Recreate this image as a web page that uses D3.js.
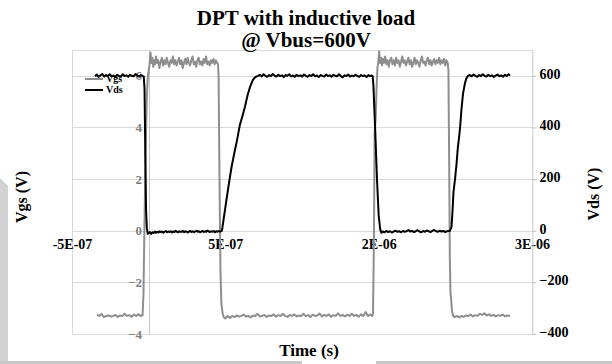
<!DOCTYPE html>
<html>
<head>
<meta charset="utf-8">
<script src="https://cdnjs.cloudflare.com/ajax/libs/d3/7.8.5/d3.min.js"></script>
<style>
  body{margin:0;background:#fff;}
  svg text{font-family:"Times New Roman","Liberation Serif","DejaVu Serif",serif;font-weight:bold;}
</style>
</head>
<body>
<div id="chart"></div>
<script>
/*texts and ticks*/
const titleLines = ['DPT with inductive load', '@ Vbus=600V'];
const xTitle = 'Time (s)';
const yLeftTitle = 'Vgs (V)';
const yRightTitle = 'Vds (V)';
const seriesNames = ['Vgs', 'Vds'];
const timeTicks = [-5e-7, 5e-7, 1.5e-6, 2.5e-6];
const timeTickLabels = ['-5E-07', '5E-07', '2E-06', '3E-06'];
const vgsTicks = [-4, -2, 0, 2, 4, 6];
const vdsTicks = [-400, -200, 0, 200, 400, 600];

/*Vgs trace, [time ns, volts]*/
const vgsPoints = [
  [-337,-3.25],[-322,-3.3],[-307,-3.22],[-292,-3.35],[-277,-3.3],[-262,-3.28],[-247,-3.32],[-232,-3.3],
  [-217,-3.26],[-202,-3.34],[-187,-3.28],[-172,-3.3],[-157,-3.22],[-142,-3.3],[-127,-3.27],[-112,-3.33],
  [-97,-3.25],[-82,-3.3],[-67,-3.24],[-52,-3.3],[-40,-3.28],
  [-34,-2.5],[-28,0],[-20,3],[-12,5.2],[-5,6.0],[0,6.2],
  [5,6.4],[12,6.9],[18,6.5],[24,6.7],[30,6.35],[36,6.6],[42,6.45],[48,6.75],[55,6.5],[62,6.6],[70,6.3],
  [78,6.55],[86,6.7],[94,6.4],[102,6.6],[110,6.45],[118,6.7],[126,6.5],[134,6.35],[142,6.6],[150,6.5],
  [158,6.75],[166,6.45],[174,6.6],[182,6.4],[190,6.55],[198,6.7],[206,6.45],[214,6.6],[222,6.3],[230,6.5],
  [238,6.65],[246,6.45],[254,6.7],[262,6.5],[270,6.4],[278,6.6],[286,6.75],[294,6.45],[302,6.55],[310,6.35],
  [318,6.6],[326,6.7],[334,6.45],[342,6.55],[350,6.4],[358,6.65],[366,6.5],[374,6.75],[382,6.45],[390,6.55],
  [398,6.4],[406,6.6],[414,6.5],[422,6.65],[430,6.45],[438,6.6],[446,6.5],[452,6.45],
  [456,6.0],[462,2.0],[468,-1.5],[474,-2.8],[482,-3.2],[490,-3.35],
  [500,-3.4],[515,-3.3],[530,-3.38],[545,-3.3],[560,-3.35],[575,-3.28],[590,-3.33],[605,-3.3],[620,-3.25],
  [635,-3.32],[650,-3.3],[665,-3.36],[680,-3.28],[695,-3.3],[710,-3.22],[725,-3.32],[740,-3.3],[755,-3.26],
  [770,-3.34],[785,-3.28],[800,-3.3],[815,-3.24],[830,-3.33],[845,-3.27],[860,-3.3],[875,-3.22],[890,-3.3],
  [905,-3.34],[920,-3.26],[935,-3.3],[950,-3.24],[965,-3.32],[980,-3.28],[995,-3.3],[1010,-3.22],[1025,-3.31],
  [1040,-3.27],[1055,-3.34],[1070,-3.25],[1085,-3.3],[1100,-3.28],[1115,-3.21],[1130,-3.32],[1145,-3.26],
  [1160,-3.3],[1175,-3.24],[1190,-3.33],[1205,-3.27],[1220,-3.3],[1235,-3.2],[1250,-3.3],[1265,-3.26],
  [1280,-3.32],[1295,-3.25],[1310,-3.3],[1325,-3.22],[1340,-3.3],[1355,-3.26],[1370,-3.33],[1385,-3.24],
  [1400,-3.3],[1415,-3.15],[1430,-3.3],[1445,-3.25],[1458,-3.3],
  [1463,-3.2],[1468,-1],[1474,3.8],[1480,4.3],[1486,5.5],[1492,6.3],
  [1497,6.5],[1503,6.95],[1509,6.5],[1515,6.7],[1521,6.4],[1528,6.65],[1535,6.5],[1542,6.75],[1550,6.45],
  [1558,6.6],[1566,6.35],[1574,6.6],[1582,6.7],[1590,6.45],[1598,6.6],[1606,6.4],[1614,6.7],[1622,6.5],
  [1630,6.6],[1638,6.35],[1646,6.55],[1654,6.75],[1662,6.5],[1670,6.6],[1678,6.4],[1686,6.55],[1694,6.7],
  [1702,6.45],[1710,6.6],[1718,6.35],[1726,6.5],[1734,6.7],[1742,6.45],[1750,6.6],[1758,6.5],[1766,6.35],
  [1774,6.6],[1782,6.75],[1790,6.5],[1798,6.55],[1806,6.4],[1814,6.6],[1822,6.7],[1830,6.45],[1838,6.6],
  [1846,6.4],[1854,6.55],[1862,6.65],[1870,6.45],[1878,6.6],[1886,6.5],[1894,6.7],[1902,6.45],[1910,6.6],
  [1918,6.5],[1926,6.65],[1934,6.4],[1942,6.6],[1950,6.5],
  [1955,6.2],[1960,2.5],[1964,-1.0],[1968,-2.4],[1972,-2.6],[1978,-3.1],[1986,-3.3],
  [1995,-3.35],[2010,-3.3],[2025,-3.36],[2040,-3.3],[2055,-3.34],[2070,-3.28],[2085,-3.3],[2100,-3.25],
  [2115,-3.32],[2130,-3.27],[2145,-3.3],[2160,-3.22],[2175,-3.26],[2190,-3.2],[2205,-3.28],[2220,-3.24],
  [2235,-3.3],[2250,-3.26],[2265,-3.32],[2280,-3.27],[2295,-3.3],[2310,-3.25],[2325,-3.32],[2340,-3.28],
  [2357,-3.3]
];

/*Vds trace, [time ns, volts]*/
const vdsPoints = [
  [-350,598],[-338,605],[-326,596],[-314,602],[-302,607],[-290,597],[-278,603],[-266,599],[-254,606],
  [-242,598],[-230,601],[-218,595],[-206,604],[-194,600],[-182,597],[-170,606],[-158,599],[-146,602],
  [-134,596],[-122,604],[-110,600],[-98,598],[-86,607],[-74,601],[-62,597],[-50,603],[-40,600],[-32,598],
  [-27,550],[-22,300],[-17,80],[-12,10],[-6,-12],[0,-8],
  [8,-5],[16,-12],[24,-6],[32,-9],[40,-3],[48,-8],[56,-4],[64,-7],[72,-2],[80,-6],[88,-3],[96,-8],[104,-4],
  [112,-1],[120,-6],[128,-3],[136,-5],[144,-2],[152,-7],[160,-3],[168,-5],[176,0],[184,-4],[192,-6],[200,-2],
  [208,-5],[216,-3],[224,-1],[232,-6],[240,-2],[248,-4],[256,-7],[264,-3],[272,-1],[280,-5],[288,-2],[296,-6],
  [304,-3],[312,0],[320,-4],[328,-2],[336,-6],[344,-3],[352,-1],[360,-5],[368,-2],[376,-4],[384,1],[392,-3],
  [400,-5],[408,-2],[416,-4],[424,-1],[432,-6],[440,-2],[448,-4],[456,-1],[464,-3],[472,-2],
  [478,0],[500,90],[520,170],[540,245],[560,305],[576,350],[595,410],[612,445],[628,480],[645,525],
  [660,555],[680,584],[695,595],
  [713,600],[725,604],[737,598],[749,606],[761,600],[773,596],[785,603],[797,599],[809,607],[821,601],
  [833,597],[845,604],[857,599],[869,602],[881,595],[893,603],[905,600],[917,606],[929,598],[941,601],
  [953,596],[965,604],[977,599],[989,602],[1001,597],[1013,605],[1025,600],[1037,596],[1049,603],[1061,599],
  [1073,606],[1085,598],[1097,601],[1109,595],[1121,603],[1133,600],[1145,597],[1157,605],[1169,599],
  [1181,602],[1193,596],[1205,604],[1217,600],[1229,598],[1241,606],[1253,599],[1265,594],[1277,602],
  [1289,599],[1301,605],[1313,597],[1325,601],[1337,598],[1349,604],[1361,600],[1373,596],[1385,603],
  [1397,599],[1409,601],[1421,595],[1433,603],[1445,599],[1455,601],[1461,598],
  [1466,560],[1472,470],[1478,380],[1489,200],[1500,60],[1510,5],
  [1518,-8],[1526,-3],[1538,-6],[1550,-1],[1562,-5],[1574,-2],[1586,-7],[1598,-3],[1610,0],[1622,-4],
  [1634,-2],[1646,-6],[1658,-1],[1670,-4],[1682,-2],[1694,3],[1706,-3],[1718,-1],[1730,-5],[1742,-2],
  [1754,2],[1766,-3],[1778,-6],[1790,-1],[1802,-4],[1814,1],[1826,-2],[1838,-5],[1850,-1],[1862,3],
  [1874,-2],[1886,-4],[1898,0],[1910,-3],[1922,-1],[1934,-5],[1946,-2],[1958,-1],[1965,0],
  [1975,15],[1982,80],[1988,150],[1998,200],[2008,260],[2016,320],[2024,360],[2031,400],[2040,470],
  [2050,530],[2063,572],[2072,590],
  [2083,600],[2095,603],[2107,598],[2119,605],[2131,600],[2143,596],[2155,603],[2167,599],[2179,606],
  [2191,600],[2203,597],[2215,604],[2227,599],[2239,602],[2251,595],[2263,601],[2275,605],[2287,598],
  [2299,602],[2311,596],[2323,604],[2335,599],[2347,606],[2357,601]
];

let
  width = 612,
  height = 364,
  plot = {left: 72, top: 50, right: 532, bottom: 334},
  grid = '#d9d9d9',
  gsColor = '#8e8e8e',
  serif = '"Times New Roman", "Liberation Serif", serif'
;

let svg = d3.select('#chart')
  .append('svg')
  .attr('width', width)
  .attr('height', height)
  .attr('font-family', serif);

/*page artefacts of the scan*/
svg.append('path')
  .attr('d', 'M0,178L8,186L8,364L0,364Z')
  .attr('fill', '#d2d2d2');
svg.append('rect').attr('x', 0).attr('y', 361).attr('width', 302).attr('height', 3).attr('fill', '#c8c8c8');
svg.append('rect').attr('x', 376).attr('y', 361).attr('width', 236).attr('height', 3).attr('fill', '#c8c8c8');

let x = d3.scaleLinear().domain([-5e-7, 2.5e-6]).range([plot.left, plot.right]);
let yGs = d3.scaleLinear().domain([-4, 7]).range([plot.bottom, plot.top]);
let yDs = d3.scaleLinear().domain([-400, 700]).range([plot.bottom, plot.top]);

/*grid*/
svg.append('g')
  .selectAll('line')
  .data(vdsTicks)
  .enter()
  .append('line')
  .attr('x1', plot.left)
  .attr('x2', plot.right)
  .attr('y1', d => Math.round(yDs(d)) + 0.5)
  .attr('y2', d => Math.round(yDs(d)) + 0.5)
  .attr('stroke', grid);

svg.append('rect')
  .attr('x', plot.left + 0.5)
  .attr('y', plot.top + 0.5)
  .attr('width', plot.right - plot.left)
  .attr('height', plot.bottom - plot.top)
  .attr('fill', 'none')
  .attr('stroke', grid);

/*left axis, crossing at t = 0*/
let leftAxis = svg.append('g')
  .attr('transform', `translate(${Math.round(x(0))},0)`)
  .call(d3.axisLeft(yGs).tickValues(vgsTicks).tickSize(0).tickSizeOuter(0).tickPadding(7));
leftAxis.attr('font-family', serif);
leftAxis.select('.domain').attr('stroke', '#c8c8c8');
leftAxis.selectAll('text')
  .attr('fill', '#7f7f7f')
  .style('font-size', '13px');

/*time axis, crossing at Vgs = 0*/
let bottomAxis = svg.append('g')
  .attr('transform', `translate(0,${yGs(0)})`)
  .call(d3.axisBottom(x).tickValues(timeTicks).tickSize(0).tickPadding(8)
    .tickFormat((d, i) => timeTickLabels[i]));
bottomAxis.attr('font-family', serif);
bottomAxis.select('.domain').remove();
bottomAxis.selectAll('text')
  .attr('fill', '#000')
  .style('font-size', '14px');

/*right axis*/
let rightAxis = svg.append('g')
  .attr('transform', `translate(${plot.right + 0.5},0)`)
  .call(d3.axisRight(yDs).tickValues(vdsTicks).tickSize(4).tickSizeOuter(0).tickPadding(3));
rightAxis.attr('font-family', serif);
rightAxis.select('.domain').attr('stroke', grid);
rightAxis.selectAll('line').attr('stroke', '#bfbfbf');
rightAxis.selectAll('text')
  .attr('fill', '#000')
  .attr('dy', '0.18em')
  .style('font-size', '14px');

/*legend*/
let legend = svg.append('g');
[gsColor, '#000'].forEach((c, i) => {
  legend.append('line')
    .attr('x1', 85).attr('x2', 103)
    .attr('y1', 79 + i * 11).attr('y2', 79 + i * 11)
    .attr('stroke', c).attr('stroke-width', 2);
  legend.append('text')
    .attr('x', 106).attr('y', 82 + i * 11)
    .style('font-size', '10px')
    .text(seriesNames[i]);
});

/*traces*/
let lineGs = d3.line().x(d => x(d[0] * 1e-9)).y(d => yGs(d[1]));
let lineDs = d3.line().x(d => x(d[0] * 1e-9)).y(d => yDs(d[1]));

svg.append('path')
  .datum(vgsPoints)
  .attr('d', lineGs)
  .attr('fill', 'none')
  .attr('stroke', gsColor)
  .attr('stroke-width', 2)
  .attr('stroke-linejoin', 'round');

svg.append('path')
  .datum(vdsPoints)
  .attr('d', lineDs)
  .attr('fill', 'none')
  .attr('stroke', '#000')
  .attr('stroke-width', 2)
  .attr('stroke-linejoin', 'round');

/*titles*/
svg.append('g')
  .selectAll('text')
  .data(titleLines)
  .enter()
  .append('text')
  .attr('x', 306)
  .attr('y', (d, i) => 25 + i * 22)
  .attr('text-anchor', 'middle')
  .style('font-size', '21px')
  .text(d => d);

svg.append('text')
  .attr('x', 309)
  .attr('y', 356)
  .attr('text-anchor', 'middle')
  .style('font-size', '17px')
  .text(xTitle);

svg.append('text')
  .attr('transform', 'translate(27,197) rotate(-90)')
  .attr('text-anchor', 'middle')
  .style('font-size', '16px')
  .text(yLeftTitle);

svg.append('text')
  .attr('transform', 'translate(599,194) rotate(-90)')
  .attr('text-anchor', 'middle')
  .style('font-size', '16px')
  .text(yRightTitle);
</script>
</body>
</html>
